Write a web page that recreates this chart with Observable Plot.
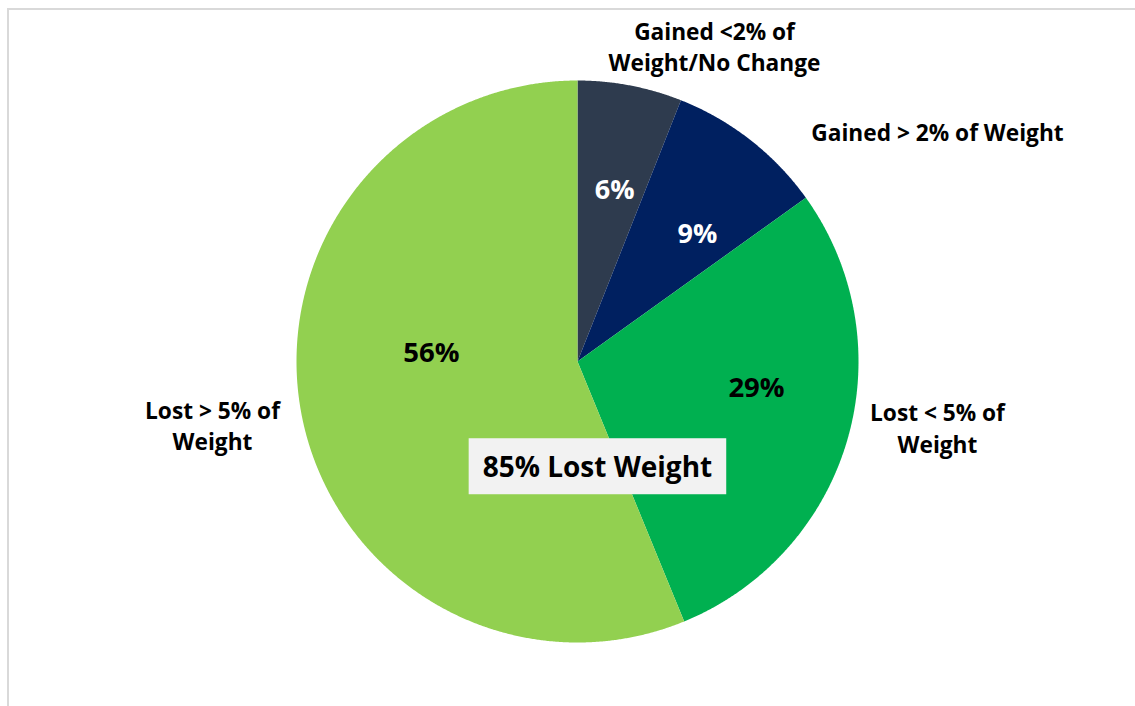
<!DOCTYPE html>
<html>
<head>
<meta charset="utf-8">
<script src="https://cdn.jsdelivr.net/npm/d3@7"></script>
<script src="https://cdn.jsdelivr.net/npm/@observablehq/plot@0.6"></script>
<style>
  html, body { margin: 0; padding: 0; background: #fff; }
  #wrap { position: relative; width: 1135px; height: 706px; overflow: hidden; }
  #frame { position: absolute; left: 7px; top: 8px; width: 1140px; height: 720px;
           border-top: 2px solid #d9d9d9; border-left: 2px solid #d9d9d9; }
  #chart { position: absolute; left: 0; top: 0; }
</style>
</head>
<body>
<div id="wrap"><div id="frame"></div><div id="chart"></div></div>
<script>
// ---- data ----
const categories = ["Gained <2% of Weight/No Change", "Gained > 2% of Weight", "Lost < 5% of Weight", "Lost > 5% of Weight"];
const values = [6.0, 9.1, 28.7, 56.2];
const colors = ["#2E3B4E", "#002060", "#00B050", "#92D050"];
const categoryLabels = ["Gained <2% of\nWeight/No Change", "Gained > 2% of Weight", "Lost < 5% of\nWeight", "Lost > 5% of\nWeight"];
const valueLabels = ["6%", "9%", "29%", "56%"];
const annotation = "85% Lost Weight";

// ---- layout (pie units: radius = 1, y up) ----
const valueLabelAt = [[0.132, 0.608], [0.427, 0.452], [0.637, -0.096], [-0.520, 0.028]];
const valueLabelColor = ["white", "white", "black", "black"];
const categoryLabelAt = [[0.4875, 1.125], [1.281, 0.822], [1.281, -0.233], [-1.299, -0.224]];
const annotationAt = [0.071, -0.38];

// slices as polygons from d3.pie angles
const arcs = d3.pie().sort(null).value(d => d)(values);
const slicePts = [];
arcs.forEach((a, i) => {
  const cat = categories[i];
  slicePts.push({cat, x: 0, y: 0});
  const n = Math.max(8, Math.ceil((a.endAngle - a.startAngle) / (Math.PI / 720)));
  for (let k = 0; k <= n; k++) {
    const t = a.startAngle + (a.endAngle - a.startAngle) * k / n;
    slicePts.push({cat, x: Math.sin(t), y: Math.cos(t)});
  }
  slicePts.push({cat, x: 0, y: 0});
});

const valueRows = values.map((v, i) => ({
  text: valueLabels[i], x: valueLabelAt[i][0], y: valueLabelAt[i][1], color: valueLabelColor[i]
}));
const catRows = categories.map((c, i) => ({
  text: categoryLabels[i], x: categoryLabelAt[i][0], y: categoryLabelAt[i][1]
}));

const font = "'Open Sans', sans-serif";
const chart = Plot.plot({
  width: 1135,
  height: 706,
  margin: 0,
  x: {domain: [-1, 1], range: [296, 858], axis: null},
  y: {domain: [-1, 1], range: [642, 80], axis: null},
  color: {domain: categories, range: colors},
  style: {fontFamily: font, background: "transparent", overflow: "visible"},
  marks: [
    Plot.line(slicePts, {x: "x", y: "y", z: "cat", fill: "cat", stroke: "none"}),
    Plot.text(valueRows.filter(d => d.color === "white"), {x: "x", y: "y", text: "text", fill: "white", fontSize: 27, fontWeight: 700}),
    Plot.text(valueRows.filter(d => d.color === "black"), {x: "x", y: "y", text: "text", fill: "black", fontSize: 27.5, fontWeight: 700}),
    Plot.text(catRows, {x: "x", y: "y", text: "text", fill: "black", fontSize: 22.7, fontWeight: 700, lineHeight: 1.38}),
    Plot.text([annotation], {x: () => annotationAt[0], y: () => annotationAt[1], text: d => d, fill: "black", fontSize: 28, fontWeight: 700})
  ]
});
document.getElementById("chart").append(chart);

// background box behind the annotation, sized from the text itself
const t = Array.from(chart.querySelectorAll("text")).find(e => e.textContent === annotation);
if (t) {
  const b = t.getBBox();
  const padX = 14, padY = 9;
  const r = document.createElementNS("http://www.w3.org/2000/svg", "rect");
  r.setAttribute("x", b.x - padX);
  r.setAttribute("y", b.y - padY);
  r.setAttribute("width", b.width + 2 * padX);
  r.setAttribute("height", b.height + 2 * padY);
  r.setAttribute("fill", "#F2F2F2");
  if (t.getAttribute("transform")) r.setAttribute("transform", t.getAttribute("transform"));
  t.parentNode.insertBefore(r, t);
}
</script>
</body>
</html>
